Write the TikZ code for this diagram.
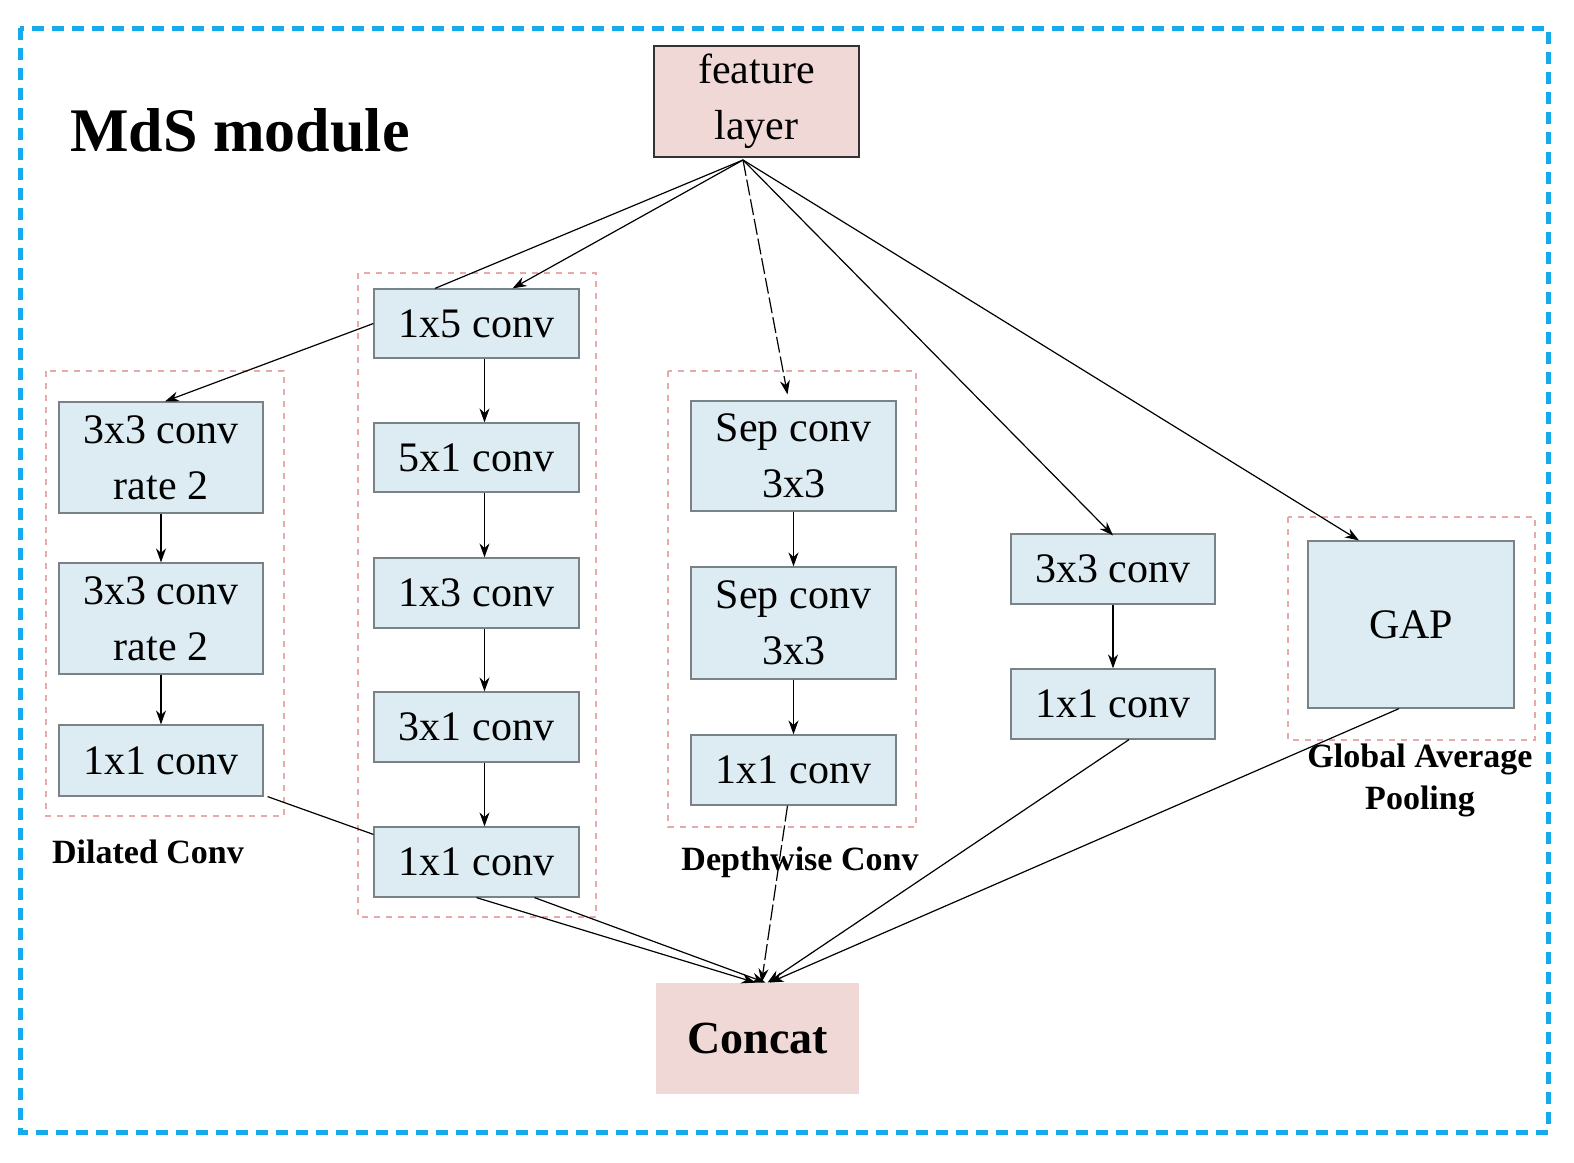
\documentclass[tikz,border=0pt]{standalone}
\usepackage{fontspec}
\setmainfont{Liberation Serif}
\usetikzlibrary{arrows.meta}
\definecolor{outerblue}{RGB}{20,170,235}
\definecolor{boxblue}{RGB}{220,236,242}
\definecolor{boxedge}{RGB}{120,130,135}
\definecolor{boxpink}{RGB}{240,216,214}
\definecolor{grppink}{RGB}{230,170,170}
\begin{document}
\begin{tikzpicture}[x=0.5pt,y=-0.5pt,
  blu/.style={fill=boxblue,draw=boxedge,line width=0.6pt,inner sep=0pt,align=center,font=\fontsize{21}{28}\selectfont},
  pnk/.style={fill=boxpink,inner sep=0pt,align=center},
  grp/.style={draw=grppink,dashed,line width=1pt},
  ar/.style={-{Stealth[length=7pt,width=5pt]},line width=0.6pt},
  ln/.style={line width=0.6pt},
  lab/.style={font=\bfseries\fontsize{17}{21}\selectfont,align=center}]
\useasboundingbox (0,0) rectangle (1574,1162);
\draw[outerblue,line width=2.5pt,dash pattern=on 6pt off 4pt] (20,28) rectangle (1548,1132);
\node[font=\bfseries\fontsize{31}{36}\selectfont] (title) at (240,130) {MdS module};
% groups
\draw[grp] (46,371) rectangle (284,816);
\draw[grp] (358,273) rectangle (596,917);
\draw[grp] (668,371) rectangle (916,827);
\draw[grp] (1288,517) rectangle (1535,740);
% top and bottom
\node[pnk,draw=black!80,line width=0.8pt,minimum width=102.5pt,minimum height=55.5pt,font=\fontsize{21}{28}\selectfont] (feat) at (756.5,101.5) {feature\\layer};
\node[pnk,minimum width=101.5pt,minimum height=55.5pt,font=\bfseries\fontsize{23}{28}\selectfont] (cat) at (757.5,1038.5) {Concat};
% column 1
\node[blu,minimum width=102pt,minimum height=55.5pt] (a1) at (161,457.5) {3x3 conv\\rate 2};
\node[blu,minimum width=102pt,minimum height=55.5pt] (a2) at (161,618.5) {3x3 conv\\rate 2};
\node[blu,minimum width=102pt,minimum height=35.5pt] (a3) at (161,760.5) {1x1 conv};
% column 2
\node[blu,minimum width=102.5pt,minimum height=34.5pt] (b1) at (476.5,323.5) {1x5 conv};
\node[blu,minimum width=102.5pt,minimum height=34.5pt] (b2) at (476.5,457.5) {5x1 conv};
\node[blu,minimum width=102.5pt,minimum height=35pt] (b3) at (476.5,593) {1x3 conv};
\node[blu,minimum width=102.5pt,minimum height=35pt] (b4) at (476.5,727) {3x1 conv};
\node[blu,minimum width=102.5pt,minimum height=35pt] (b5) at (476.5,862) {1x1 conv};
% column 3
\node[blu,minimum width=102.5pt,minimum height=55pt] (c1) at (793.5,456) {Sep conv\\3x3};
\node[blu,minimum width=102.5pt,minimum height=56pt] (c2) at (793.5,623) {Sep conv\\3x3};
\node[blu,minimum width=102.5pt,minimum height=35pt] (c3) at (793.5,770) {1x1 conv};
% column 4
\node[blu,minimum width=102pt,minimum height=35pt] (d1) at (1113,569) {3x3 conv};
\node[blu,minimum width=102pt,minimum height=35pt] (d2) at (1113,704) {1x1 conv};
% GAP
\node[blu,minimum width=103pt,minimum height=83.5pt] (gap) at (1411,624.5) {GAP};
% labels
\node[lab] (l1) at (148,852) {Dilated Conv};
\node[lab] (l2) at (800,862) {Depthwise Conv};
\node[lab] (l3) at (1420,780) {Global Average\\Pooling};
% arrows from feature layer
\coordinate (fs) at (743,160);
\draw[ln] (fs) -- ([xshift=-20.75pt]b1.north);
\draw[ar] (fs) -- ([xshift=18pt]b1.north);
\draw[ar] (b1.west) -- ([xshift=2pt]a1.north);
\draw[ar,dash pattern=on 8pt off 2pt] (fs) -- ([xshift=-3pt,yshift=3pt]c1.north);
\draw[ar] (fs) -- ([yshift=-1pt]d1.north);
\draw[ar] (fs) -- ([xshift=-26pt]gap.north);
% vertical
\draw[ar] (a1) -- (a2);
\draw[ar] (a2) -- (a3);
\draw[ar] ([xshift=4pt]b1.south) -- ([xshift=4pt]b2.north);
\draw[ar] ([xshift=4pt]b2.south) -- ([xshift=4pt]b3.north);
\draw[ar] ([xshift=4pt]b3.south) -- ([xshift=4pt]b4.north);
\draw[ar] ([xshift=4pt]b4.south) -- ([xshift=4pt]b5.north);
\draw[ar] (c1) -- (c2);
\draw[ar] (c2) -- (c3);
\draw[ar] (d1) -- (d2);
% to concat
\draw[ln] ([xshift=2pt]a3.south east) -- ([yshift=-4pt]b5.north west);
\draw[ar] (b5.south) -- ([xshift=-1pt]cat.north);
\draw[ar] ([xshift=29pt]b5.south) -- ([xshift=4pt]cat.north);
\draw[ar,dash pattern=on 8pt off 2pt] ([xshift=-3pt]c3.south) -- ([xshift=2pt]cat.north);
\draw[ar] ([xshift=8pt]d2.south) -- ([xshift=5pt]cat.north);
\draw[ar] ([xshift=-6pt]gap.south) -- ([xshift=6pt]cat.north);
\end{tikzpicture}
\end{document}
